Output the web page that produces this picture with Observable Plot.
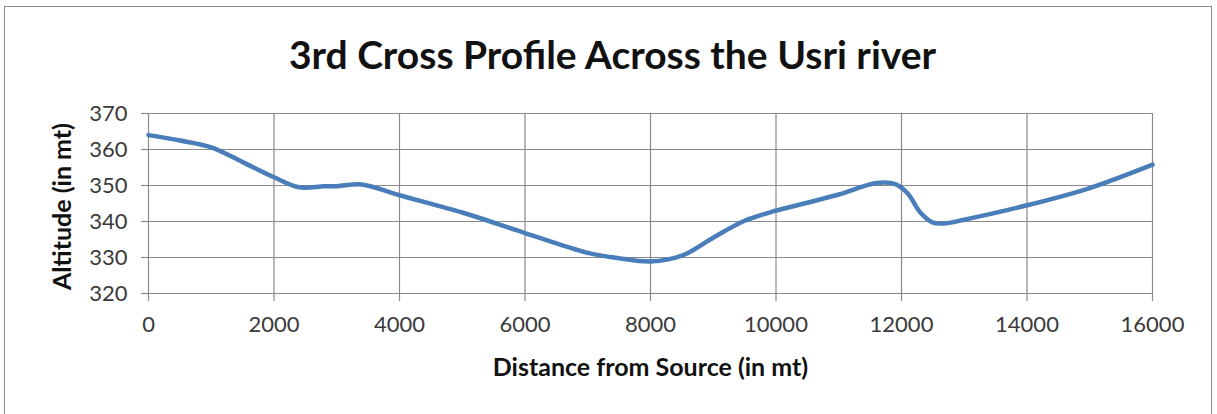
<!DOCTYPE html>
<html>
<head>
<meta charset="utf-8">
<script src="https://cdn.jsdelivr.net/npm/d3@7"></script>
<script src="https://cdn.jsdelivr.net/npm/@observablehq/plot@0.6"></script>
<style>
  body { margin: 0; background: #fff; }
  #wrap { position: relative; width: 1217px; height: 414px; }
  #border { position: absolute; left: 4px; top: 6px; width: 1208px; height: 420px; border: 1.5px solid #8c8c8c; box-sizing: border-box; pointer-events: none; }
  svg { font-family: Lato, "Open Sans", sans-serif; }
</style>
</head>
<body>
<div id="wrap"><div id="border"></div></div>
<script>
const title = "3rd Cross Profile Across the Usri river";
const xLabel = "Distance from Source (in mt)";
const yLabel = "Altitude (in mt)";
const xTicks = [0, 2000, 4000, 6000, 8000, 10000, 12000, 14000, 16000];
const yTicks = [320, 330, 340, 350, 360, 370];
const distance = [0, 500, 1000, 1500, 2000, 2400, 2800, 3000, 3400, 4000, 5000, 6000, 7000, 7500, 8000, 8500, 9000, 9500, 10000, 10500, 11000, 11600, 11900, 12100, 12300, 12500, 12700, 13000, 14000, 15000, 16000];
const altitude = [364, 362.5, 360.6, 356.5, 352.3, 349.5, 349.8, 349.8, 350.3, 347.3, 342.5, 336.8, 331.3, 329.8, 328.9, 330.5, 335.5, 340.2, 343, 345.2, 347.5, 350.7, 350.4, 347.8, 342.5, 339.7, 339.5, 340.5, 344.5, 349.3, 355.8];

const data = distance.map((d, i) => ({distance: d, altitude: altitude[i]}));

const chart = Plot.plot({
  width: 1217,
  height: 414,
  marginLeft: 148,
  marginRight: 65,
  marginTop: 113,
  marginBottom: 121,
  x: {domain: [0, 16000]},
  y: {domain: [320, 370]},
  marks: [
    Plot.gridX(xTicks, {stroke: "#8a8a8a", strokeOpacity: 1, strokeWidth: 1.2}),
    Plot.gridY(yTicks, {stroke: "#8a8a8a", strokeOpacity: 1, strokeWidth: 1.2}),
    Plot.axisX(xTicks, {tickSize: 8, tickPadding: 15, tickFormat: d3.format("d"), fontSize: 22, fill: "#3a3a3a", stroke: "#8a8a8a", strokeWidth: 1.2, label: null}),
    Plot.axisY(yTicks, {tickSize: 7, tickPadding: 14, tickFormat: d3.format("d"), fontSize: 22, fill: "#3a3a3a", stroke: "#8a8a8a", strokeWidth: 1.2, label: null}),
    Plot.line(data, {x: "distance", y: "altitude", curve: "catmull-rom", stroke: "#4a7ebb", strokeWidth: 4.5}),
    Plot.text([title], {frameAnchor: "top", lineAnchor: "middle", textAnchor: "middle", dx: -38, dy: -57, fontSize: 39, fontWeight: "bold", fill: "#111"}),
    Plot.text([xLabel], {frameAnchor: "bottom", lineAnchor: "middle", textAnchor: "middle", dy: 74, fontSize: 25, fontWeight: "bold", fill: "#111"}),
    Plot.text([yLabel], {frameAnchor: "left", lineAnchor: "middle", textAnchor: "middle", dx: -86, dy: 3, rotate: -90, fontSize: 25, fontWeight: "bold", fill: "#111"})
  ]
});
document.getElementById("wrap").prepend(chart);
</script>
</body>
</html>
